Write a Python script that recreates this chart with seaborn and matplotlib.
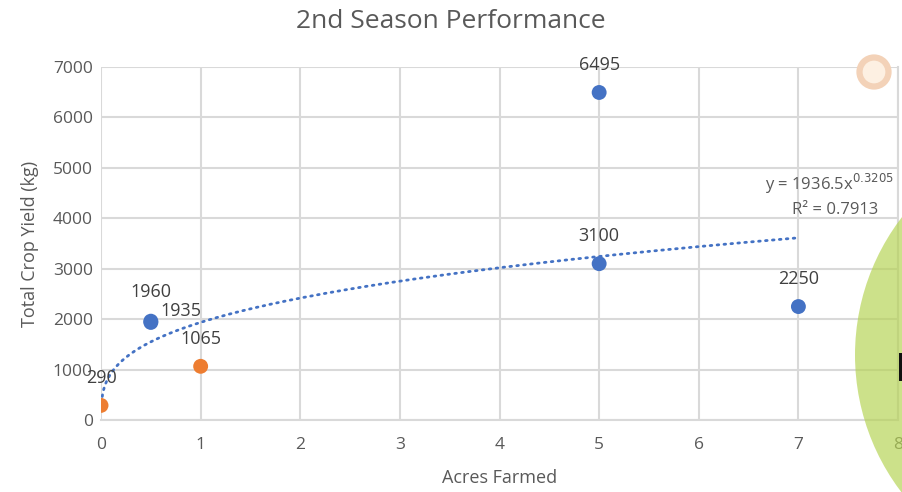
import matplotlib
matplotlib.use("Agg")
import matplotlib.pyplot as plt
import seaborn as sns
import numpy as np
import pandas as pd
from matplotlib.patches import Ellipse, Rectangle

# ---- data ----
series = ["A", "A", "A", "A", "A", "B", "B"]
acres = [0.5, 0.5, 5, 5, 7, 0, 1]
yield_kg = [1960, 1935, 6495, 3100, 2250, 290, 1065]
palette = {"A": "#4472C4", "B": "#ED7D31"}
coef_a = 1936.5
coef_b = 0.3205
r2 = 0.7913
trend_x_min = 0.004
trend_x_max = 7
x_ticks = [0, 1, 2, 3, 4, 5, 6, 7, 8]
y_ticks = [0, 1000, 2000, 3000, 4000, 5000, 6000, 7000]

df = pd.DataFrame({"series": series, "Acres Farmed": acres, "Total Crop Yield (kg)": yield_kg})

sns.set_theme(style="white")
plt.rcParams["font.family"] = ["Open Sans", "DejaVu Sans"]

fig = plt.figure(figsize=(9.02, 4.92), dpi=100)
ax = fig.add_axes([0.112, 0.1463, 0.8836, 0.7175])

grid_c = "#d9d9d9"
text_c = "#595959"

# trendline
tx = np.linspace(trend_x_min, trend_x_max, 600)
ty = coef_a * tx ** coef_b
sns.lineplot(x=tx, y=ty, ax=ax, color="#4472C4", lw=2.0, linestyle=(0, (0.6, 1.9)),
             dash_capstyle="round", zorder=3, legend=False)

sns.scatterplot(data=df, x="Acres Farmed", y="Total Crop Yield (kg)", hue="series",
                palette=palette, s=115, edgecolor="none", ax=ax, legend=False, zorder=4)

# data labels
offsets = {0: (0, 21), 1: (22, 8), 2: (0, 20), 3: (0, 20), 4: (0, 20), 5: (0, 20), 6: (0, 20)}
for i, (xv, yv) in enumerate(zip(acres, yield_kg)):
    dx, dy = offsets[i]
    ax.annotate(f"{yv}", (xv, yv), xytext=(dx, dy), textcoords="offset points",
                ha="center", va="center", fontsize=13, color="#404040", zorder=5)

ax.text(0.9945, 0.668, f"y = {coef_a}x$^{{{coef_b}}}$", transform=ax.transAxes,
        ha="right", va="center", fontsize=12, color=text_c)
ax.text(0.975, 0.594, f"R² = {r2}", transform=ax.transAxes,
        ha="right", va="center", fontsize=12, color=text_c)

ax.set_xlim(0, 8)
ax.set_ylim(0, 7000)
ax.set_xticks(x_ticks)
ax.set_yticks(y_ticks)
ax.grid(True, color=grid_c, lw=1.5)
ax.set_axisbelow(True)
for s in ["top", "left"]:
    ax.spines[s].set_visible(False)
ax.spines["right"].set_color(grid_c)
ax.spines["right"].set_linewidth(1.5)
ax.spines["bottom"].set_color(grid_c)
ax.spines["bottom"].set_linewidth(1.5)
ax.tick_params(axis="x", length=0, labelsize=12.5, labelcolor=text_c, pad=12)
ax.tick_params(axis="y", length=0, labelsize=12.5, labelcolor=text_c, pad=6)
ax.set_xlabel("Acres Farmed", fontsize=13, color=text_c, labelpad=12)
ax.set_ylabel("Total Crop Yield (kg)", fontsize=13, color=text_c, labelpad=10)

fig.text(0.5, 0.957, "2nd Season Performance", ha="center", va="center",
         fontsize=19, color=text_c)

# overlay decorations from the screenshot
fig.patches.append(Ellipse((874 / 902, 1 - 72 / 492), 29 / 902, 29 / 492, transform=fig.transFigure,
                           facecolor="#fdf0e2", edgecolor="#f3d2b8", lw=4.5, zorder=10))
fig.patches.append(Ellipse((1081 / 902, 1 - 355 / 492), 452 / 902, 452 / 492, transform=fig.transFigure,
                           facecolor="#b5d353", alpha=0.68, edgecolor="none", zorder=10))
fig.patches.append(Rectangle((899 / 902, 1 - 381 / 492), 3 / 902, 28 / 492, transform=fig.transFigure,
                             facecolor="#111111", edgecolor="none", zorder=11))

fig.savefig("out.png", dpi=100)
